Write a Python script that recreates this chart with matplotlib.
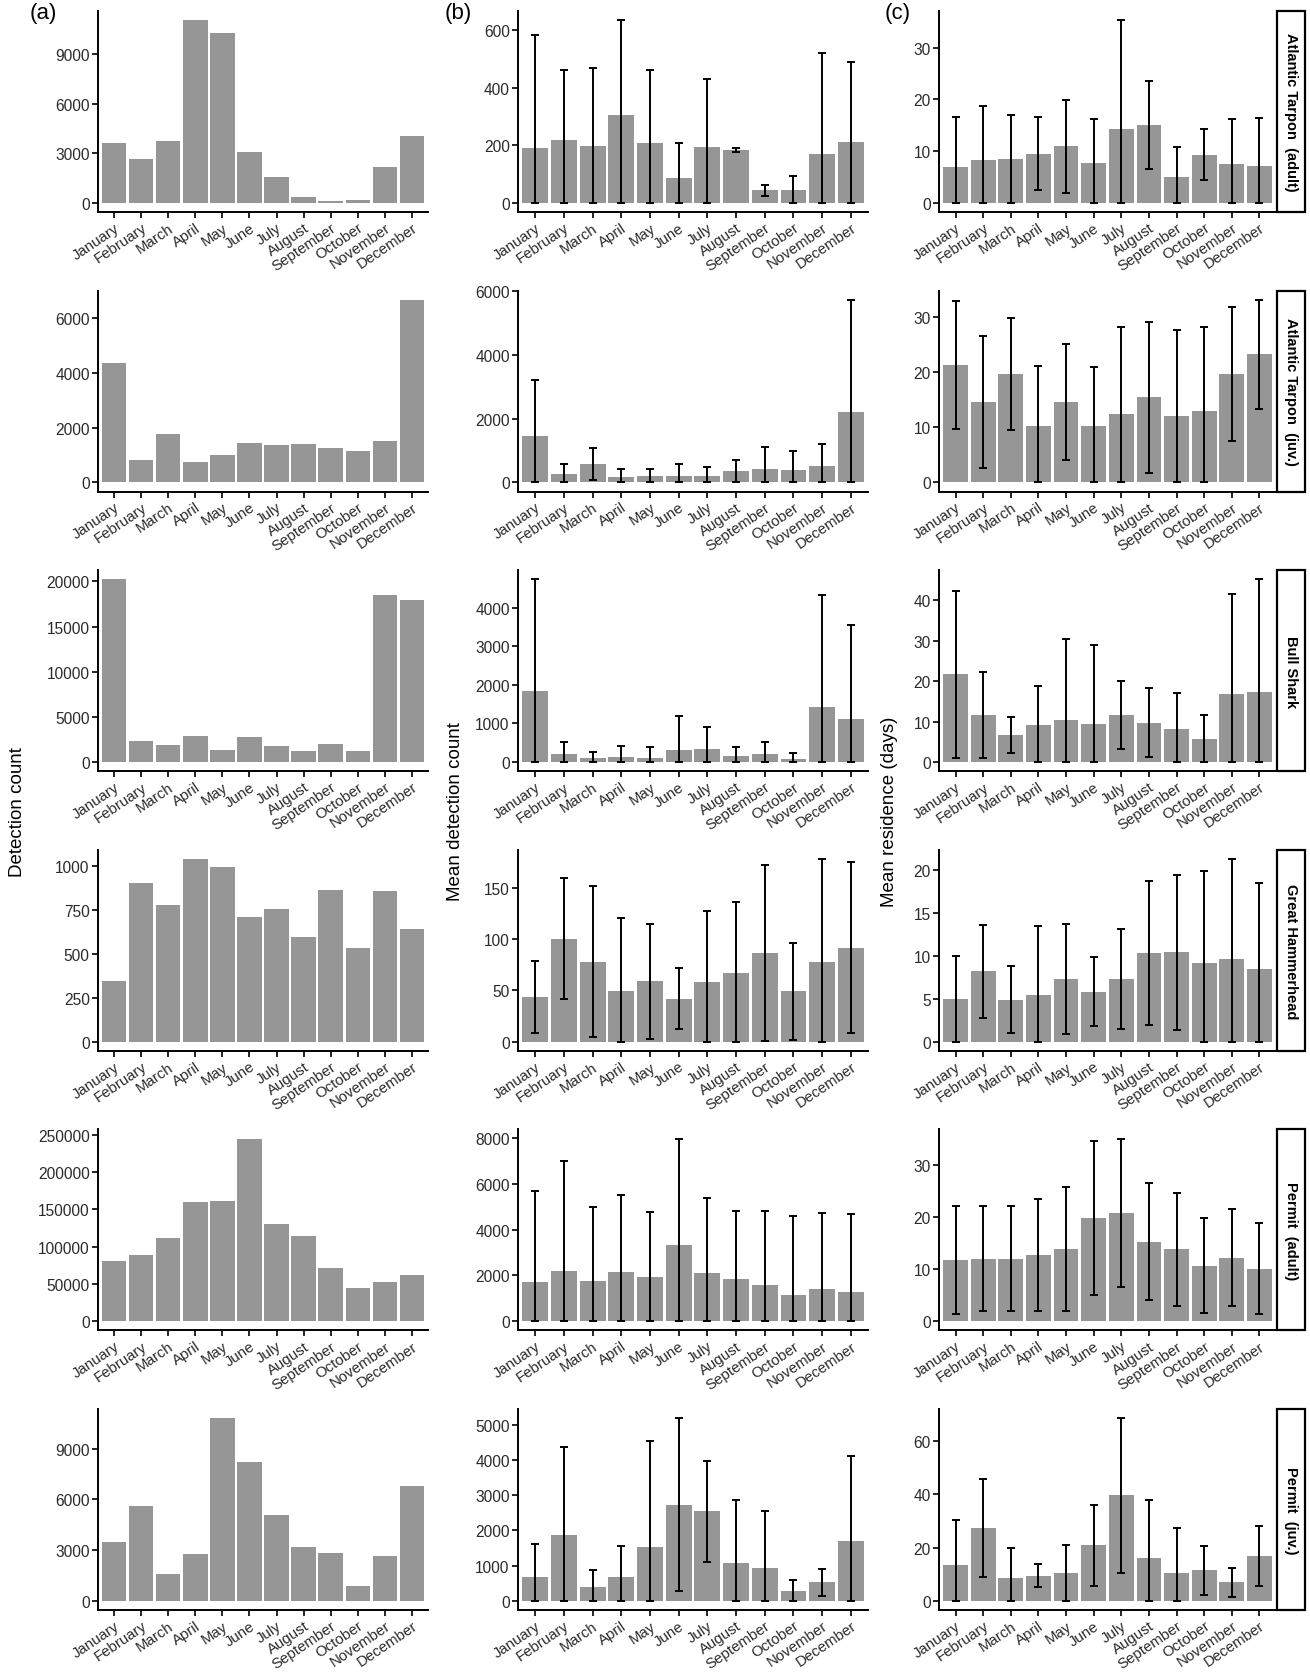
import matplotlib
matplotlib.use("Agg")
import matplotlib.pyplot as plt
import numpy as np
from matplotlib.patches import Rectangle

plt.rcParams['font.family'] = ['Liberation Sans', 'DejaVu Sans']

months = ["January", "February", "March", "April", "May", "June", "July",
          "August", "September", "October", "November", "December"]

species = ["Atlantic Tarpon  (adult)", "Atlantic Tarpon  (juv.)", "Bull Shark",
           "Great Hammerhead", "Permit  (adult)", "Permit  (juv.)"]

# (a) detection count per month
det_tarpon_ad = [3600, 2640, 3770, 11070, 10310, 3060, 1550, 380, 100, 180, 2200, 4070]
det_tarpon_juv = [4340, 805, 1780, 750, 1010, 1440, 1365, 1390, 1260, 1155, 1520, 6660]
det_bull = [20230, 2330, 1850, 2920, 1340, 2800, 1775, 1180, 1970, 1260, 18530, 17980]
det_hammer = [347, 903, 780, 1041, 994, 713, 753, 599, 865, 535, 859, 639]
det_permit_ad = [81100, 88200, 111900, 160000, 161300, 244700, 130600, 114100, 71300, 44600, 53000, 62400]
det_permit_juv = [3500, 5600, 1600, 2750, 10800, 8200, 5100, 3200, 2800, 850, 2650, 6800]

# (b) mean detection count and sd
mdet_tarpon_ad = [189, 219, 198, 307, 207, 85, 194, 183, 43, 43, 170, 213]
mdet_sd_tarpon_ad = [393, 241, 272, 328, 255, 124, 238, 6, 20, 49, 352, 276]
mdet_tarpon_juv = [1453, 268, 581, 156, 212, 212, 201, 346, 425, 380, 514, 2224]
mdet_sd_tarpon_juv = [1776, 313, 510, 257, 200, 369, 280, 370, 703, 614, 693, 3508]
mdet_bull = [1850, 212, 111, 138, 111, 304, 341, 166, 203, 92, 1429, 1115]
mdet_sd_bull = [2880, 313, 156, 268, 267, 894, 562, 221, 322, 138, 2903, 2433]
mdet_hammer = [43.4, 100.1, 77.8, 49.6, 58.7, 41.8, 58.0, 67.1, 86.5, 48.9, 78.1, 91.7]
mdet_sd_hammer = [35.3, 59.0, 73.6, 70.6, 56.2, 29.6, 69.0, 69.3, 85.5, 47.0, 100.0, 83.0]
mdet_permit_ad = [1701, 2207, 1762, 2130, 1931, 3310, 2084, 1839, 1594, 1165, 1395, 1287]
mdet_sd_permit_ad = [3970, 4797, 3219, 3372, 2835, 4659, 3311, 2958, 3203, 3417, 3325, 3372]
mdet_permit_juv = [690, 1862, 406, 680, 1531, 2732, 2543, 1068, 926, 274, 529, 1701]
mdet_sd_permit_juv = [926, 2514, 473, 889, 3015, 2458, 1428, 1796, 1617, 312, 385, 2401]

# (c) mean residence (days) and sd
res_tarpon_ad = [7.0, 8.3, 8.4, 9.5, 10.9, 7.7, 14.3, 15.0, 5.0, 9.3, 7.5, 7.2]
res_sd_tarpon_ad = [9.5, 10.5, 8.5, 7.0, 8.9, 8.5, 21.0, 8.5, 5.7, 4.9, 8.7, 9.1]
res_tarpon_juv = [21.3, 14.7, 19.7, 10.2, 14.6, 10.2, 12.4, 15.5, 12.0, 13.0, 19.7, 23.3]
res_sd_tarpon_juv = [11.6, 12.0, 10.2, 10.9, 10.5, 10.8, 15.8, 13.7, 15.7, 15.2, 12.1, 9.9]
res_bull = [21.7, 11.6, 6.6, 9.2, 10.3, 9.3, 11.7, 9.7, 8.2, 5.6, 16.7, 17.3]
res_sd_bull = [20.6, 10.7, 4.4, 9.5, 20.1, 19.5, 8.4, 8.5, 8.9, 6.0, 24.7, 27.8]
res_hammer = [5.0, 8.2, 4.9, 5.4, 7.25, 5.8, 7.3, 10.3, 10.4, 9.1, 9.65, 8.4]
res_sd_hammer = [5.0, 5.4, 3.9, 8.0, 6.4, 4.0, 5.8, 8.4, 9.0, 10.7, 11.6, 10.0]
res_permit_ad = [11.8, 12.0, 12.05, 12.7, 13.9, 19.8, 20.8, 15.3, 13.8, 10.7, 12.2, 10.1]
res_sd_permit_ad = [10.4, 10.05, 10.0, 10.8, 11.9, 14.8, 14.3, 11.3, 10.9, 9.2, 9.3, 8.8]
res_permit_juv = [13.6, 27.3, 8.7, 9.4, 10.3, 20.8, 39.5, 15.9, 10.6, 11.4, 7.0, 16.7]
res_sd_permit_juv = [16.9, 18.4, 11.0, 4.3, 10.6, 15.3, 29.0, 21.8, 16.9, 9.1, 5.4, 11.2]

ticks_a = [[0, 3000, 6000, 9000], [0, 2000, 4000, 6000], [0, 5000, 10000, 15000, 20000],
           [0, 250, 500, 750, 1000], [0, 50000, 100000, 150000, 200000, 250000],
           [0, 3000, 6000, 9000]]
ticks_b = [[0, 200, 400, 600], [0, 2000, 4000, 6000], [0, 1000, 2000, 3000, 4000],
           [0, 50, 100, 150], [0, 2000, 4000, 6000, 8000], [0, 1000, 2000, 3000, 4000, 5000]]
ticks_c = [[0, 10, 20, 30], [0, 10, 20, 30], [0, 10, 20, 30, 40],
           [0, 5, 10, 15, 20], [0, 10, 20, 30], [0, 20, 40, 60]]

det_all = [det_tarpon_ad, det_tarpon_juv, det_bull, det_hammer, det_permit_ad, det_permit_juv]
mdet_all = [mdet_tarpon_ad, mdet_tarpon_juv, mdet_bull, mdet_hammer, mdet_permit_ad, mdet_permit_juv]
mdet_sd_all = [mdet_sd_tarpon_ad, mdet_sd_tarpon_juv, mdet_sd_bull, mdet_sd_hammer,
               mdet_sd_permit_ad, mdet_sd_permit_juv]
res_all = [res_tarpon_ad, res_tarpon_juv, res_bull, res_hammer, res_permit_ad, res_permit_juv]
res_sd_all = [res_sd_tarpon_ad, res_sd_tarpon_juv, res_sd_bull, res_sd_hammer,
              res_sd_permit_ad, res_sd_permit_juv]

W, H = 1310, 1674
BAR = '#969696'
TXT = '#2b2b2b'

fig = plt.figure(figsize=(W / 100, H / 100), dpi=100)


def panel(ax, vals, ticks, sd=None):
    x = np.arange(1, 13)
    vals = np.asarray(vals, dtype=float)
    ax.bar(x, vals, width=0.9, color=BAR, linewidth=0, zorder=1)
    top = vals.max()
    if sd is not None:
        sd = np.asarray(sd, dtype=float)
        lo = np.maximum(0, vals - sd)
        hi = vals + sd
        ax.errorbar(x, vals, yerr=[vals - lo, hi - vals], fmt='none', ecolor='black',
                    elinewidth=1.4, capsize=2.6, capthick=1.4, zorder=2)
        top = hi.max()
    ax.set_xlim(0.4, 12.6)
    ax.set_ylim(-0.05 * top, 1.05 * top)
    ax.set_yticks(ticks)
    ax.set_yticklabels([str(t) for t in ticks])
    ax.set_xticks(x)
    ax.set_xticklabels(months, rotation=34, ha='right', va='top', rotation_mode='anchor')
    for s in ['top', 'right']:
        ax.spines[s].set_visible(False)
    for s in ['left', 'bottom']:
        ax.spines[s].set_linewidth(1.4)
    ax.tick_params(length=4, width=1.2, pad=2, labelsize=11.2, labelcolor=TXT)
    ax.tick_params(axis='x', pad=2, labelsize=10.8)


cols = [(98, 330), (518, 350), (939, 337)]
for i in range(6):
    top_px = 12 + 279.6 * i
    h_px = 201
    y0 = 1 - (top_px + h_px) / H
    axs = [fig.add_axes([l / W, y0, w / W, h_px / H]) for l, w in cols]
    panel(axs[0], det_all[i], ticks_a[i])
    panel(axs[1], mdet_all[i], ticks_b[i], mdet_sd_all[i])
    panel(axs[2], res_all[i], ticks_c[i], res_sd_all[i])

    sax = fig.add_axes([1277 / W, y0, 28 / W, h_px / H])
    sax.set_axis_off()
    sax.add_patch(Rectangle((0, 0), 1, 1, transform=sax.transAxes, facecolor='white',
                            edgecolor='black', linewidth=1.6, clip_on=False))
    sax.text(0.5, 0.5, species[i], rotation=-90, ha='center', va='center',
             fontsize=10.5, fontweight='bold', transform=sax.transAxes)

for lbl, xp in [('(a)', 30), ('(b)', 445), ('(c)', 885)]:
    fig.text(xp / W, 1 - 3 / H, lbl, ha='left', va='top', fontsize=16)

for lbl, xp in [('Detection count', 18), ('Mean detection count', 455),
                ('Mean residence (days)', 890)]:
    fig.text(xp / W, 1 - 812 / H, lbl, rotation=90, ha='center', va='center', fontsize=13.5)

fig.savefig('out.png', dpi=100)
